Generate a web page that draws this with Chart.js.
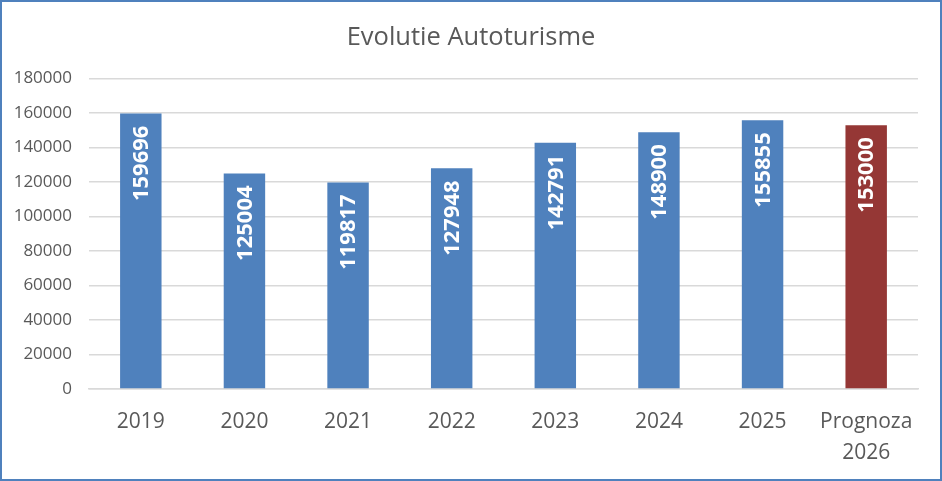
<!DOCTYPE html>
<html>
<head>
<meta charset="utf-8">
<script src="https://cdn.jsdelivr.net/npm/chart.js@4"></script>
<style>
  html, body { margin: 0; padding: 0; background: #fff; }
  #wrap { width: 942px; height: 481px; box-sizing: border-box; border: 2px solid #4f81bd; position: relative; }
  canvas { display: block; }
</style>
</head>
<body>
<div id="wrap"><canvas id="grafic" width="938" height="477"></canvas></div>
<script>
const ani = ['2019', '2020', '2021', '2022', '2023', '2024', '2025', ['Prognoza', '2026']];
const autoturisme = [159696, 125004, 119817, 127948, 142791, 148900, 155855, 153000];
const culori = ['#4f81bd', '#4f81bd', '#4f81bd', '#4f81bd', '#4f81bd', '#4f81bd', '#4f81bd', '#953735'];
const FONT = "'Open Sans', 'Noto Sans', sans-serif";

// etichete rotite in interiorul barelor
const eticheteBare = {
  id: 'eticheteBare',
  afterDatasetsDraw(chart) {
    const ctx = chart.ctx;
    const meta = chart.getDatasetMeta(0);
    meta.data.forEach((bar, i) => {
      ctx.save();
      ctx.translate(bar.x + 1, bar.y + 12);
      ctx.rotate(-Math.PI / 2);
      ctx.fillStyle = '#ffffff';
      ctx.font = 'bold 22px ' + FONT;
      ctx.textAlign = 'right';
      ctx.textBaseline = 'middle';
      ctx.fillText(String(autoturisme[i]), 0, 0);
      ctx.restore();
    });
  }
};

new Chart(document.getElementById('grafic'), {
  type: 'bar',
  data: {
    labels: ani,
    datasets: [{
      data: autoturisme,
      backgroundColor: culori,
      borderWidth: 0,
      categoryPercentage: 1,
      barPercentage: 0.4
    }]
  },
  options: {
    responsive: false,
    animation: false,
    layout: { padding: { left: 11, right: 11, top: 0, bottom: 0 } },
    plugins: {
      legend: { display: false },
      tooltip: { enabled: false },
      title: {
        display: true,
        text: 'Evolutie Autoturisme',
        color: '#595959',
        font: { family: FONT, size: 25.5, weight: 'normal' },
        padding: { top: 20, bottom: 26 }
      }
    },
    scales: {
      y: {
        min: 0,
        max: 180000,
        ticks: {
          stepSize: 20000,
          color: '#595959',
          font: { family: FONT, size: 17 },
          padding: 17,
          callback: v => String(v)
        },
        grid: { color: '#d9d9d9', lineWidth: 1.5, drawTicks: false },
        border: { display: false },
        afterFit(scale) { scale.width = 76; }
      },
      // axa goala in dreapta, doar pentru spatiu
      yDreapta: {
        position: 'right',
        min: 0,
        max: 180000,
        ticks: { display: false },
        grid: { display: false },
        border: { display: false },
        afterFit(scale) { scale.width = 11; }
      },
      x: {
        ticks: { color: '#595959', font: { family: FONT, size: 21, lineHeight: 1.5 }, padding: 9, maxRotation: 0 },
        grid: { display: false },
        border: { display: true, color: '#d9d9d9', width: 1.5 },
        afterFit(scale) { scale.height = 90; }
      }
    }
  },
  plugins: [eticheteBare]
});
</script>
</body>
</html>
